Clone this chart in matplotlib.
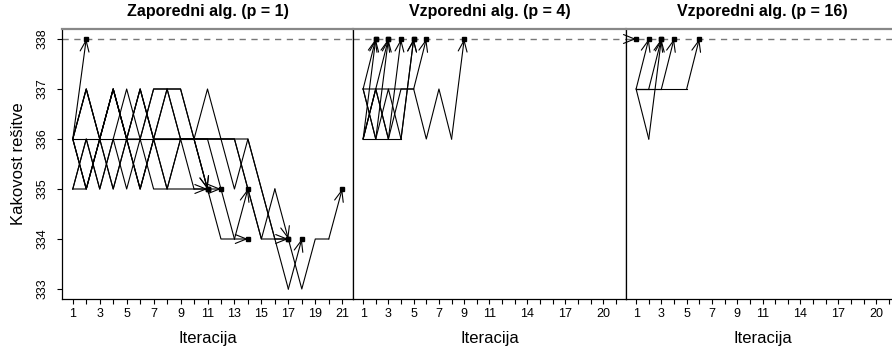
import matplotlib
matplotlib.use("Agg")
import matplotlib.pyplot as plt

plt.rcParams["font.family"] = ["Liberation Sans", "DejaVu Sans"]

# each run: solution quality per iteration, starting at iteration 1
titles = ["Zaporedni alg. (p = 1)", "Vzporedni alg. (p = 4)", "Vzporedni alg. (p = 16)"]

runs_p1 = [
    [336, 338],
    [336, 336, 336, 336, 336, 336, 336, 336, 336, 336, 335],
    [336, 337, 336, 335, 336, 337, 336, 335, 336, 336, 335],
    [335, 335, 336, 337, 336, 335, 336, 337, 337, 336, 335, 335],
    [336, 335, 336, 337, 336, 337, 336, 336, 336, 336, 336, 335, 334, 335],
    [335, 336, 335, 336, 335, 336, 335, 335, 335, 335, 335, 334, 334, 334],
    [336, 337, 336, 337, 336, 337, 336, 336, 336, 336, 336, 336, 336, 335, 334, 335, 334],
    [335, 336, 335, 336, 337, 336, 337, 337, 336, 336, 337, 336, 335, 336, 335, 334, 334],
    [336, 335, 336, 335, 336, 335, 336, 335, 336, 336, 336, 336, 336, 336, 335, 334, 333, 334],
    [336, 335, 336, 337, 336, 335, 336, 337, 337, 336, 336, 336, 336, 335, 334, 334, 334, 333, 334, 334, 335],
    [336, 337, 336, 337, 336, 336, 337, 337, 336, 335, 335],
]

runs_p4 = [
    [336, 338],
    [337, 338],
    [336, 337, 338],
    [337, 336, 338],
    [336, 337, 336, 338],
    [337, 336, 337, 336, 338],
    [336, 336, 336, 336, 338],
    [336, 337, 336, 337, 337, 338],
    [337, 337, 337, 337, 337, 336, 337, 336, 338],
]

runs_p16 = [
    [338],
    [337, 338],
    [337, 336, 338],
    [337, 337, 338],
    [337, 337, 337, 338],
    [337, 337, 337, 337, 337, 338],
]

optimum = 338
y_ticks = [333, 334, 335, 336, 337, 338]
x_ticks = list(range(1, 22))
x_labels_seq = [1, 3, 5, 7, 9, 11, 13, 15, 17, 19, 21]
x_labels_par = [1, 3, 5, 7, 9, 11, 14, 17, 20]

W, H = 892, 349
fig = plt.figure(figsize=(W / 100, H / 100), dpi=100)
bottom, height = 50 / H, 270 / H
boxes = [(62, 291), (353, 273), (626, 273)]
arrow_style = "->,head_length=0.8,head_width=0.32"


def draw_runs(ax, runs):
    for run in runs:
        iters = list(range(1, len(run) + 1))
        if len(run) > 1:
            ax.plot(iters[:-1], run[:-1], color="black", lw=0.8, zorder=3)
            start = (iters[-2], run[-2])
        else:
            start = (iters[-1] - 0.01, run[-1])
        ax.annotate("", xy=(iters[-1], run[-1]), xytext=start,
                    arrowprops=dict(arrowstyle=arrow_style, lw=0.8, color="black",
                                    shrinkA=0, shrinkB=0), zorder=4)
        ax.plot(iters[-1], run[-1], "s", color="black", ms=3.5, zorder=5)


for k, (runs, labels) in enumerate([(runs_p1, x_labels_seq), (runs_p4, x_labels_par), (runs_p16, x_labels_par)]):
    left, width = boxes[k]
    ax = fig.add_axes([left / W, bottom, width / W, height])
    ax.axhline(optimum, color="#777777", lw=1, ls=(0, (4.5, 4)), zorder=2)
    draw_runs(ax, runs)

    ax.set_xlim(0.2, 21.8)
    ax.set_ylim(332.8, 338.2)
    ax.set_xticks(x_ticks)
    ax.set_xticklabels([str(t) if t in labels else "" for t in x_ticks], fontsize=9)
    ax.tick_params(axis="x", direction="out", length=3.6, width=0.8, pad=3)

    if k == 0:
        ax.set_yticks(y_ticks)
        ax.set_yticklabels([str(t) for t in y_ticks], rotation=90, va="center", fontsize=9)
        ax.tick_params(axis="y", direction="out", length=3.6, width=0.8, pad=6)
        ax.text(-0.149, 0.5, "Kakovost rešitve", transform=ax.transAxes, rotation=90,
                ha="center", va="center", fontsize=12)
    else:
        ax.tick_params(axis="y", left=False, labelleft=False)

    for side in ["left", "right", "bottom"]:
        ax.spines[side].set_color("black")
        ax.spines[side].set_linewidth(0.9)
    ax.spines["top"].set_color("#888888")
    ax.spines["top"].set_linewidth(1.6)

    ax.text(0.5, 1.063, titles[k], transform=ax.transAxes, ha="center", va="center",
            fontsize=11.5, fontweight="bold")
    ax.text(0.5, -0.146, "Iteracija", transform=ax.transAxes, ha="center", va="center",
            fontsize=12)

fig.savefig("out.png", dpi=100)
